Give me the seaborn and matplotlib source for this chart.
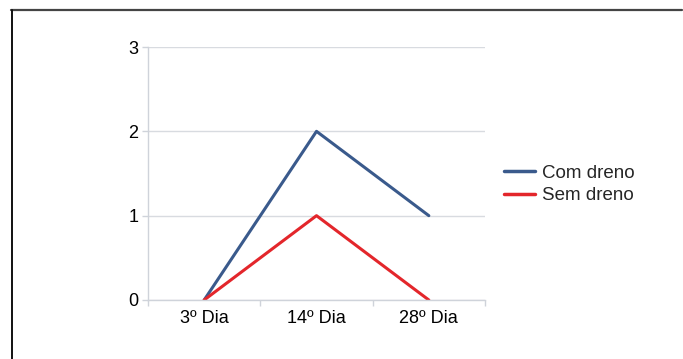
import matplotlib
matplotlib.use("Agg")
import matplotlib.pyplot as plt
from matplotlib.lines import Line2D
import seaborn as sns
import pandas as pd

categories = ["3º Dia", "14º Dia", "28º Dia"]
com_dreno = [0, 2, 1]
sem_dreno = [0, 1, 0]
series_names = ["Com dreno", "Sem dreno"]
yticks = [0, 1, 2, 3]

sns.set_theme(style="white")
plt.rcParams["font.family"] = ["Liberation Sans", "DejaVu Sans"]

rows = []
for name, vals in zip(series_names, [com_dreno, sem_dreno]):
    for i, v in enumerate(vals):
        rows.append({"pos": i, "value": v, "serie": name})
df = pd.DataFrame(rows)

W, H = 683, 359
fig = plt.figure(figsize=(W / 100, H / 100), dpi=100)
ax = fig.add_axes([148 / W, 1 - 300 / H, (485 - 148) / W, (300 - 47) / H])

sns.lineplot(data=df, x="pos", y="value", hue="serie",
             palette={"Com dreno": "#3a5a8c", "Sem dreno": "#e3262b"},
             linewidth=2.2, ax=ax, legend=True)

ax.set_xlim(-0.5, 2.5)
ax.set_ylim(0, 3)
ax.set_xticks(range(len(categories)))
ax.set_xticklabels(categories, fontsize=13, color="black")
ax.set_xticks([-0.5, 0.5, 1.5, 2.5], minor=True)
ax.tick_params(axis="x", which="major", length=0, pad=7)
ax.tick_params(axis="x", which="minor", length=4, width=1, color="#cfd3da",
               direction="out", bottom=True)
ax.set_yticks(yticks)
ax.set_yticklabels([str(t) for t in yticks], fontsize=13, color="black")
ax.tick_params(axis="y", length=4, width=1, color="#cfd3da", direction="out",
               left=True, pad=3)
ax.set_xlabel("")
ax.set_ylabel("")
ax.grid(axis="y", color="#d8dbe0", linewidth=1)
ax.set_axisbelow(True)
for s in ["top", "right"]:
    ax.spines[s].set_visible(False)
for s in ["left", "bottom"]:
    ax.spines[s].set_color("#cfd3da")
    ax.spines[s].set_linewidth(1)

handles, labels = ax.get_legend_handles_labels()
leg = ax.legend(handles, labels, loc="center left",
                bbox_to_anchor=(496 / W, 1 - 184.5 / H),
                bbox_transform=fig.transFigure, frameon=False,
                fontsize=13.5, handlelength=1.7, handletextpad=0.35,
                labelspacing=0.3, borderaxespad=0)
for l in leg.get_lines():
    l.set_linewidth(2.5)

fig.add_artist(Line2D([11 / W, 682 / W], [1 - 10 / H, 1 - 10 / H],
                      transform=fig.transFigure, color="#444444", linewidth=1.6))
fig.add_artist(Line2D([11.5 / W, 11.5 / W], [0, 1 - 10 / H],
                      transform=fig.transFigure, color="#111111", linewidth=1.4))

fig.savefig("out.png", dpi=100)
